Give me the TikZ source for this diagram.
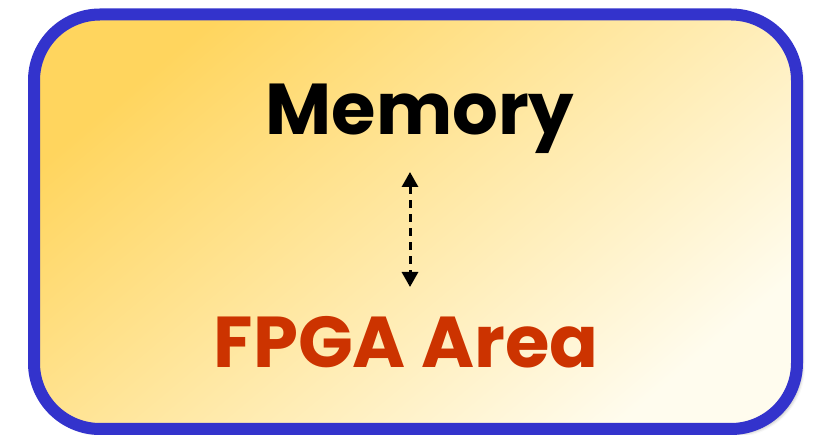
\documentclass[tikz,border=0pt]{standalone}
\usepackage{fontspec}
\setmainfont{Poppins}
\usetikzlibrary{shadows.blur,arrows.meta}
\definecolor{bordblue}{HTML}{3333CC}
\definecolor{fpgared}{HTML}{CC3300}
\definecolor{goldy}{HTML}{FFD55E}
\definecolor{creamy}{HTML}{FFFCEE}
\tikzset{
  framebox/.style={draw=bordblue, line width=12pt, rounded corners=66pt,
    top color=goldy, bottom color=creamy, shading angle=40,
    minimum width=763pt, minimum height=414.5pt, inner sep=0pt,
    blur shadow={shadow xshift=4pt, shadow yshift=-4pt, shadow blur radius=4pt, shadow opacity=45}},
  bigtext/.style={font=\fontsize{72}{80}\selectfont\bfseries, anchor=base, inner sep=0pt},
  dasharrow/.style={{Triangle[width=16pt,length=15pt]}-{Triangle[width=16pt,length=15pt]}, line width=3pt, dash pattern=on 8pt off 6pt}
}
\begin{document}
\begin{tikzpicture}[x=1pt,y=-1pt]
\useasboundingbox (0,0) rectangle (820,435);
\node[framebox] (frame) at (415.5,221.75) {};
\node[bigtext, text=black] (mem) at (420,135) {Memory};
\node[bigtext, text=fpgared] (fpga) at (406,368) {FPGA Area};
\coordinate (atop) at (410,172);
\coordinate (abot) at (410,287);
\draw[dasharrow] (atop) -- (abot);
\end{tikzpicture}
\end{document}
